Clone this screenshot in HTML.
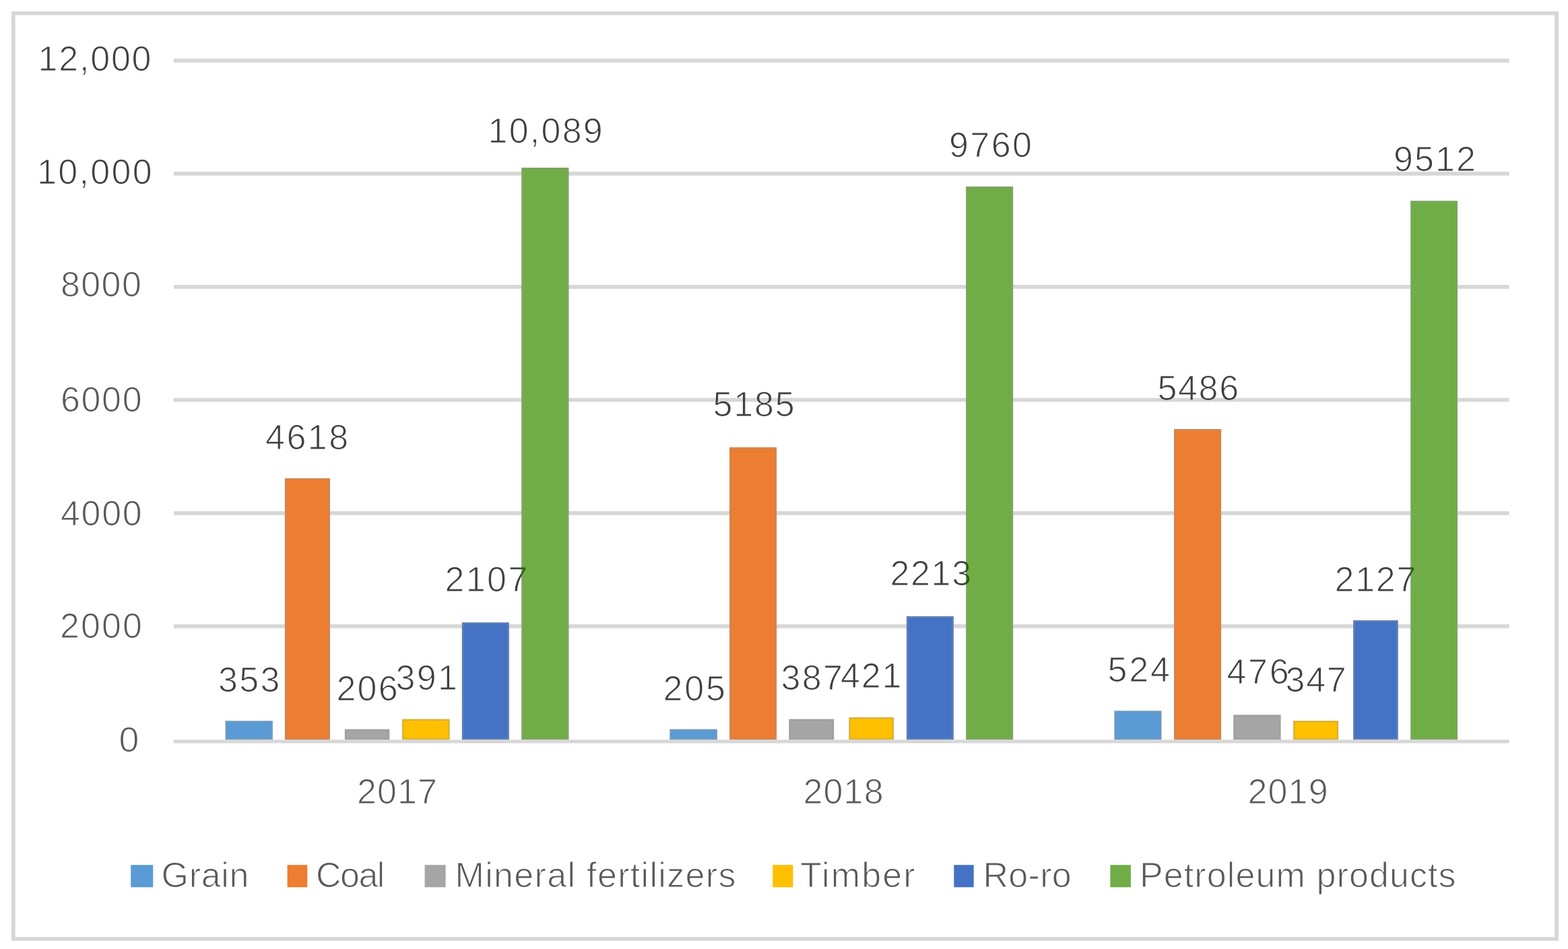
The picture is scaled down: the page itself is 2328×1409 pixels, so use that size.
<!DOCTYPE html>
<html><head><meta charset="utf-8"><title>Cargo chart</title>
<style>html,body{margin:0;padding:0;background:#fff;overflow:hidden;width:2328px;height:1409px;}svg{display:block;}text{font-family:"Liberation Sans", "DejaVu Sans", sans-serif;}text.t{stroke:#fff;stroke-width:1.2;}</style></head><body>
<svg width="2328" height="1409" viewBox="0 0 2328 1409">
<rect x="0" y="0" width="2328" height="1409" fill="#fff"/>
<g fill="#D7D7D7">
<rect x="17" y="17" width="2297" height="5.5"/>
<rect x="17" y="1391.2" width="2297" height="5.5"/>
<rect x="17" y="17" width="5.7" height="1379.7"/>
<rect x="2308.2" y="17" width="5.7" height="1379.7"/>
</g>
<g fill="#D7D7D7">
<rect x="257.8" y="87.1" width="1982.8" height="5.8"/>
<rect x="257.8" y="254.9" width="1982.8" height="5.8"/>
<rect x="257.8" y="423" width="1982.8" height="5.8"/>
<rect x="257.8" y="590.8" width="1982.8" height="5.8"/>
<rect x="257.8" y="759" width="1982.8" height="5.8"/>
<rect x="257.8" y="926.9" width="1982.8" height="5.8"/>
</g>
<defs>
<mask id="m_y12" maskUnits="userSpaceOnUse" x="0" y="0" width="2328" height="1409"><text x="56.5" y="105" font-size="52" textLength="168.04" lengthAdjust="spacing" fill="#fff" stroke="#000" stroke-width="1.2">12,000</text></mask>
<mask id="m_y10" maskUnits="userSpaceOnUse" x="0" y="0" width="2328" height="1409"><text x="55" y="272.9" font-size="52" textLength="170.68" lengthAdjust="spacing" fill="#fff" stroke="#000" stroke-width="1.2">10,000</text></mask>
<mask id="m_y8" maskUnits="userSpaceOnUse" x="0" y="0" width="2328" height="1409"><text x="90" y="440" font-size="52" textLength="119.81" lengthAdjust="spacing" fill="#fff" stroke="#000" stroke-width="1.2">8000</text></mask>
<mask id="m_y6" maskUnits="userSpaceOnUse" x="0" y="0" width="2328" height="1409"><text x="90" y="611.1" font-size="52" textLength="120.59" lengthAdjust="spacing" fill="#fff" stroke="#000" stroke-width="1.2">6000</text></mask>
<mask id="m_y4" maskUnits="userSpaceOnUse" x="0" y="0" width="2328" height="1409"><text x="90" y="779.7" font-size="52" textLength="120.79" lengthAdjust="spacing" fill="#fff" stroke="#000" stroke-width="1.2">4000</text></mask>
<mask id="m_y2" maskUnits="userSpaceOnUse" x="0" y="0" width="2328" height="1409"><text x="89" y="947" font-size="52" textLength="121.94" lengthAdjust="spacing" fill="#fff" stroke="#000" stroke-width="1.2">2000</text></mask>
<mask id="m_y0" maskUnits="userSpaceOnUse" x="0" y="0" width="2328" height="1409"><text x="176.4" y="1115.8" font-size="52" textLength="29.9" lengthAdjust="spacingAndGlyphs" fill="#fff" stroke="#000" stroke-width="1.2">0</text></mask>
<mask id="m_x17" maskUnits="userSpaceOnUse" x="0" y="0" width="2328" height="1409"><text x="530" y="1192.6" font-size="52" textLength="119" lengthAdjust="spacing" fill="#fff" stroke="#000" stroke-width="1.2">2017</text></mask>
<mask id="m_x18" maskUnits="userSpaceOnUse" x="0" y="0" width="2328" height="1409"><text x="1192.5" y="1192.6" font-size="52" textLength="119.06" lengthAdjust="spacing" fill="#fff" stroke="#000" stroke-width="1.2">2018</text></mask>
<mask id="m_x19" maskUnits="userSpaceOnUse" x="0" y="0" width="2328" height="1409"><text x="1852.5" y="1192.6" font-size="52" textLength="119.06" lengthAdjust="spacing" fill="#fff" stroke="#000" stroke-width="1.2">2019</text></mask>
<mask id="m_d353" maskUnits="userSpaceOnUse" x="0" y="0" width="2328" height="1409"><text x="324" y="1027" font-size="52" textLength="91.4" lengthAdjust="spacing" fill="#fff" stroke="#000" stroke-width="1.2">353</text></mask>
<mask id="m_d4618" maskUnits="userSpaceOnUse" x="0" y="0" width="2328" height="1409"><text x="394" y="667" font-size="52" textLength="123.19" lengthAdjust="spacing" fill="#fff" stroke="#000" stroke-width="1.2">4618</text></mask>
<mask id="m_d206" maskUnits="userSpaceOnUse" x="0" y="0" width="2328" height="1409"><text x="499.5" y="1039.5" font-size="52" textLength="91.1" lengthAdjust="spacing" fill="#fff" stroke="#000" stroke-width="1.2">206</text></mask>
<mask id="m_d391" maskUnits="userSpaceOnUse" x="0" y="0" width="2328" height="1409"><text x="587.5" y="1024.4" font-size="52" textLength="91.4" lengthAdjust="spacing" fill="#fff" stroke="#000" stroke-width="1.2">391</text></mask>
<mask id="m_d2107" maskUnits="userSpaceOnUse" x="0" y="0" width="2328" height="1409"><text x="660.5" y="877.7" font-size="52" textLength="122.83" lengthAdjust="spacing" fill="#fff" stroke="#000" stroke-width="1.2">2107</text></mask>
<mask id="m_d10089" maskUnits="userSpaceOnUse" x="0" y="0" width="2328" height="1409"><text x="724.5" y="211.7" font-size="52" textLength="170.2" lengthAdjust="spacing" fill="#fff" stroke="#000" stroke-width="1.2">10,089</text></mask>
<mask id="m_d205" maskUnits="userSpaceOnUse" x="0" y="0" width="2328" height="1409"><text x="984.5" y="1039.5" font-size="52" textLength="92.3" lengthAdjust="spacing" fill="#fff" stroke="#000" stroke-width="1.2">205</text></mask>
<mask id="m_d5185" maskUnits="userSpaceOnUse" x="0" y="0" width="2328" height="1409"><text x="1058.5" y="617.7" font-size="52" textLength="121.13" lengthAdjust="spacing" fill="#fff" stroke="#000" stroke-width="1.2">5185</text></mask>
<mask id="m_d387" maskUnits="userSpaceOnUse" x="0" y="0" width="2328" height="1409"><text x="1159.5" y="1024.4" font-size="52" textLength="91.5" lengthAdjust="spacing" fill="#fff" stroke="#000" stroke-width="1.2">387</text></mask>
<mask id="m_d421" maskUnits="userSpaceOnUse" x="0" y="0" width="2328" height="1409"><text x="1248" y="1021.1" font-size="52" textLength="90.3" lengthAdjust="spacing" fill="#fff" stroke="#000" stroke-width="1.2">421</text></mask>
<mask id="m_d2213" maskUnits="userSpaceOnUse" x="0" y="0" width="2328" height="1409"><text x="1321.5" y="869" font-size="52" textLength="120.59" lengthAdjust="spacing" fill="#fff" stroke="#000" stroke-width="1.2">2213</text></mask>
<mask id="m_d9760" maskUnits="userSpaceOnUse" x="0" y="0" width="2328" height="1409"><text x="1409" y="232.8" font-size="52" textLength="123" lengthAdjust="spacing" fill="#fff" stroke="#000" stroke-width="1.2">9760</text></mask>
<mask id="m_d524" maskUnits="userSpaceOnUse" x="0" y="0" width="2328" height="1409"><text x="1644.5" y="1012" font-size="52" textLength="92.4" lengthAdjust="spacing" fill="#fff" stroke="#000" stroke-width="1.2">524</text></mask>
<mask id="m_d5486" maskUnits="userSpaceOnUse" x="0" y="0" width="2328" height="1409"><text x="1718.5" y="594" font-size="52" textLength="120.59" lengthAdjust="spacing" fill="#fff" stroke="#000" stroke-width="1.2">5486</text></mask>
<mask id="m_d476" maskUnits="userSpaceOnUse" x="0" y="0" width="2328" height="1409"><text x="1821.5" y="1015" font-size="52" textLength="92.1" lengthAdjust="spacing" fill="#fff" stroke="#000" stroke-width="1.2">476</text></mask>
<mask id="m_d347" maskUnits="userSpaceOnUse" x="0" y="0" width="2328" height="1409"><text x="1908.5" y="1027.1" font-size="52" textLength="90.2" lengthAdjust="spacing" fill="#fff" stroke="#000" stroke-width="1.2">347</text></mask>
<mask id="m_d2127" maskUnits="userSpaceOnUse" x="0" y="0" width="2328" height="1409"><text x="1981.5" y="877.9" font-size="52" textLength="120.93" lengthAdjust="spacing" fill="#fff" stroke="#000" stroke-width="1.2">2127</text></mask>
<mask id="m_d9512" maskUnits="userSpaceOnUse" x="0" y="0" width="2328" height="1409"><text x="2069" y="254.1" font-size="52" textLength="121.93" lengthAdjust="spacing" fill="#fff" stroke="#000" stroke-width="1.2">9512</text></mask>
<mask id="m_lGrain" maskUnits="userSpaceOnUse" x="0" y="0" width="2328" height="1409"><text x="239.5" y="1317.2" font-size="52" textLength="129.99" lengthAdjust="spacing" fill="#fff" stroke="#000" stroke-width="1.2">Grain</text></mask>
<mask id="m_lCoal" maskUnits="userSpaceOnUse" x="0" y="0" width="2328" height="1409"><text x="469" y="1317.2" font-size="52" textLength="102.34" lengthAdjust="spacing" fill="#fff" stroke="#000" stroke-width="1.2">Coal</text></mask>
<mask id="m_lMin" maskUnits="userSpaceOnUse" x="0" y="0" width="2328" height="1409"><text x="675.5" y="1317.3" font-size="52" textLength="416.98" lengthAdjust="spacing" fill="#fff" stroke="#000" stroke-width="1.2">Mineral fertilizers</text></mask>
<mask id="m_lTim" maskUnits="userSpaceOnUse" x="0" y="0" width="2328" height="1409"><text x="1188" y="1317.3" font-size="52" textLength="170.64" lengthAdjust="spacing" fill="#fff" stroke="#000" stroke-width="1.2">Timber</text></mask>
<mask id="m_lRoro" maskUnits="userSpaceOnUse" x="0" y="0" width="2328" height="1409"><text x="1459.5" y="1317.3" font-size="52" textLength="131.18" lengthAdjust="spacing" fill="#fff" stroke="#000" stroke-width="1.2">Ro-ro</text></mask>
<mask id="m_lPet" maskUnits="userSpaceOnUse" x="0" y="0" width="2328" height="1409"><text x="1692" y="1317.4" font-size="52" textLength="469.59" lengthAdjust="spacing" fill="#fff" stroke="#000" stroke-width="1.2">Petroleum products</text></mask>
</defs>
<g>
<rect x="335.9" y="1071.5" width="67.7" height="25.6" fill="#5B9BD5" stroke="#6E99C0" stroke-width="2.6"/>
<rect x="424.2" y="711.4" width="64.5" height="385.7" fill="#ED7D31" stroke="#D08552" stroke-width="2.6"/>
<rect x="513.2" y="1083.9" width="63.8" height="13.2" fill="#A5A5A5" stroke="#A0A0A0" stroke-width="2.6"/>
<rect x="598.3" y="1068.9" width="68.1" height="28.2" fill="#FFC000" stroke="#DCB232" stroke-width="2.6"/>
<rect x="687.1" y="925.4" width="67.5" height="171.7" fill="#4472C4" stroke="#5F7EB5" stroke-width="2.6"/>
<rect x="995.7" y="1083.9" width="67.9" height="13.2" fill="#5B9BD5" stroke="#6E99C0" stroke-width="2.6"/>
<rect x="1084.3" y="665.4" width="67.5" height="431.7" fill="#ED7D31" stroke="#D08552" stroke-width="2.6"/>
<rect x="1172.6" y="1068.9" width="64.3" height="28.2" fill="#A5A5A5" stroke="#A0A0A0" stroke-width="2.6"/>
<rect x="1261.6" y="1066.3" width="64.2" height="30.8" fill="#FFC000" stroke="#DCB232" stroke-width="2.6"/>
<rect x="1347.2" y="916.2" width="67.4" height="180.9" fill="#4472C4" stroke="#5F7EB5" stroke-width="2.6"/>
<rect x="1655.7" y="1056.6" width="67.5" height="40.5" fill="#5B9BD5" stroke="#6E99C0" stroke-width="2.6"/>
<rect x="1744.3" y="638.3" width="67.5" height="458.8" fill="#ED7D31" stroke="#D08552" stroke-width="2.6"/>
<rect x="1832.5" y="1062.6" width="67.8" height="34.5" fill="#A5A5A5" stroke="#A0A0A0" stroke-width="2.6"/>
<rect x="1921.4" y="1071.4" width="64.4" height="25.7" fill="#FFC000" stroke="#DCB232" stroke-width="2.6"/>
<rect x="2010.4" y="922.2" width="64.1" height="174.9" fill="#4472C4" stroke="#5F7EB5" stroke-width="2.6"/>
</g>
<text x="660.5" y="877.7" font-size="52" fill="#404040" textLength="122.83" lengthAdjust="spacing" mask="url(#m_d2107)">2107</text>
<text x="1321.5" y="869" font-size="52" fill="#404040" textLength="120.59" lengthAdjust="spacing" mask="url(#m_d2213)">2213</text>
<text x="1981.5" y="877.9" font-size="52" fill="#404040" textLength="120.93" lengthAdjust="spacing" mask="url(#m_d2127)">2127</text>
<g>
<rect x="775.5" y="250.2" width="67.7" height="846.9" fill="#70AD47" stroke="#7DA561" stroke-width="2.6"/>
<rect x="1435.4" y="278.2" width="67.5" height="818.9" fill="#70AD47" stroke="#7DA561" stroke-width="2.6"/>
<rect x="2095.5" y="299.4" width="67.2" height="797.7" fill="#70AD47" stroke="#7DA561" stroke-width="2.6"/>
</g>
<clipPath id="gclip">
<rect x="774.2" y="248.9" width="70.3" height="849.5"/>
<rect x="1434.1" y="276.9" width="70.1" height="821.5"/>
<rect x="2094.2" y="298.1" width="69.8" height="800.3"/>
</clipPath>
<g clip-path="url(#gclip)">
<text x="660.5" y="877.7" font-size="52" fill="#2B5A1E" stroke="#70AD47" stroke-width="1.2" textLength="122.83" lengthAdjust="spacing">2107</text>
<text x="1321.5" y="869" font-size="52" fill="#2B5A1E" stroke="#70AD47" stroke-width="1.2" textLength="120.59" lengthAdjust="spacing">2213</text>
<text x="1981.5" y="877.9" font-size="52" fill="#2B5A1E" stroke="#70AD47" stroke-width="1.2" textLength="120.93" lengthAdjust="spacing">2127</text>
</g>
<rect x="257.8" y="1098.3" width="1982.8" height="5.2" fill="#D7D7D7"/>
<rect x="194.2" y="1284.2" width="33.1" height="33.1" fill="#5B9BD5"/>
<rect x="426.6" y="1284.2" width="29.7" height="33.1" fill="#ED7D31"/>
<rect x="630.6" y="1284.2" width="31" height="33.1" fill="#A5A5A5"/>
<rect x="1147.3" y="1284.2" width="30.1" height="33.1" fill="#FFC000"/>
<rect x="1416.3" y="1284.2" width="29.4" height="33.1" fill="#4472C4"/>
<rect x="1648.4" y="1284.2" width="30.5" height="33.1" fill="#70AD47"/>
<text x="56.5" y="105" font-size="52" fill="#404040" textLength="168.04" lengthAdjust="spacing" mask="url(#m_y12)">12,000</text>
<text x="55" y="272.9" font-size="52" fill="#404040" textLength="170.68" lengthAdjust="spacing" mask="url(#m_y10)">10,000</text>
<text x="90" y="440" font-size="52" fill="#595959" textLength="119.81" lengthAdjust="spacing" mask="url(#m_y8)">8000</text>
<text x="90" y="611.1" font-size="52" fill="#595959" textLength="120.59" lengthAdjust="spacing" mask="url(#m_y6)">6000</text>
<text x="90" y="779.7" font-size="52" fill="#595959" textLength="120.79" lengthAdjust="spacing" mask="url(#m_y4)">4000</text>
<text x="89" y="947" font-size="52" fill="#595959" textLength="121.94" lengthAdjust="spacing" mask="url(#m_y2)">2000</text>
<text x="176.4" y="1115.8" font-size="52" fill="#595959" textLength="29.9" lengthAdjust="spacingAndGlyphs" mask="url(#m_y0)">0</text>
<text x="530" y="1192.6" font-size="52" fill="#595959" textLength="119" lengthAdjust="spacing" mask="url(#m_x17)">2017</text>
<text x="1192.5" y="1192.6" font-size="52" fill="#595959" textLength="119.06" lengthAdjust="spacing" mask="url(#m_x18)">2018</text>
<text x="1852.5" y="1192.6" font-size="52" fill="#595959" textLength="119.06" lengthAdjust="spacing" mask="url(#m_x19)">2019</text>
<text x="324" y="1027" font-size="52" fill="#404040" textLength="91.4" lengthAdjust="spacing" mask="url(#m_d353)">353</text>
<text x="394" y="667" font-size="52" fill="#404040" textLength="123.19" lengthAdjust="spacing" mask="url(#m_d4618)">4618</text>
<text x="499.5" y="1039.5" font-size="52" fill="#404040" textLength="91.1" lengthAdjust="spacing" mask="url(#m_d206)">206</text>
<text x="587.5" y="1024.4" font-size="52" fill="#404040" textLength="91.4" lengthAdjust="spacing" mask="url(#m_d391)">391</text>
<text x="724.5" y="211.7" font-size="52" fill="#404040" textLength="170.2" lengthAdjust="spacing" mask="url(#m_d10089)">10,089</text>
<text x="984.5" y="1039.5" font-size="52" fill="#404040" textLength="92.3" lengthAdjust="spacing" mask="url(#m_d205)">205</text>
<text x="1058.5" y="617.7" font-size="52" fill="#404040" textLength="121.13" lengthAdjust="spacing" mask="url(#m_d5185)">5185</text>
<text x="1159.5" y="1024.4" font-size="52" fill="#404040" textLength="91.5" lengthAdjust="spacing" mask="url(#m_d387)">387</text>
<text x="1248" y="1021.1" font-size="52" fill="#404040" textLength="90.3" lengthAdjust="spacing" mask="url(#m_d421)">421</text>
<text x="1409" y="232.8" font-size="52" fill="#404040" textLength="123" lengthAdjust="spacing" mask="url(#m_d9760)">9760</text>
<text x="1644.5" y="1012" font-size="52" fill="#404040" textLength="92.4" lengthAdjust="spacing" mask="url(#m_d524)">524</text>
<text x="1718.5" y="594" font-size="52" fill="#404040" textLength="120.59" lengthAdjust="spacing" mask="url(#m_d5486)">5486</text>
<text x="1821.5" y="1015" font-size="52" fill="#404040" textLength="92.1" lengthAdjust="spacing" mask="url(#m_d476)">476</text>
<text x="1908.5" y="1027.1" font-size="52" fill="#404040" textLength="90.2" lengthAdjust="spacing" mask="url(#m_d347)">347</text>
<text x="2069" y="254.1" font-size="52" fill="#404040" textLength="121.93" lengthAdjust="spacing" mask="url(#m_d9512)">9512</text>
<text x="239.5" y="1317.2" font-size="52" fill="#595959" textLength="129.99" lengthAdjust="spacing" mask="url(#m_lGrain)">Grain</text>
<text x="469" y="1317.2" font-size="52" fill="#595959" textLength="102.34" lengthAdjust="spacing" mask="url(#m_lCoal)">Coal</text>
<text x="675.5" y="1317.3" font-size="52" fill="#595959" textLength="416.98" lengthAdjust="spacing" mask="url(#m_lMin)">Mineral fertilizers</text>
<text x="1188" y="1317.3" font-size="52" fill="#595959" textLength="170.64" lengthAdjust="spacing" mask="url(#m_lTim)">Timber</text>
<text x="1459.5" y="1317.3" font-size="52" fill="#595959" textLength="131.18" lengthAdjust="spacing" mask="url(#m_lRoro)">Ro-ro</text>
<text x="1692" y="1317.4" font-size="52" fill="#595959" textLength="469.59" lengthAdjust="spacing" mask="url(#m_lPet)">Petroleum products</text>
</svg></body></html>
